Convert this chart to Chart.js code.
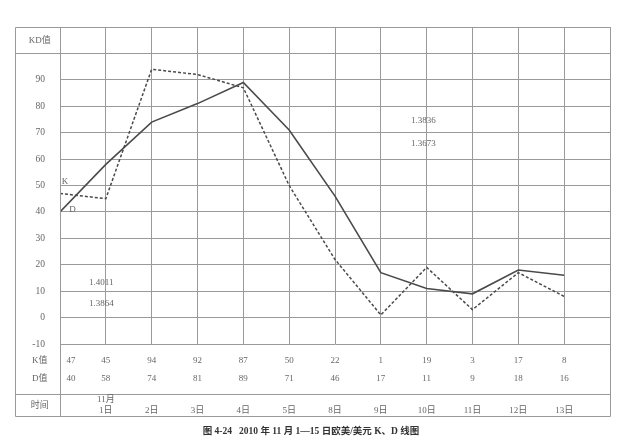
<!DOCTYPE html>
<html>
<head>
<meta charset="utf-8">
<script src="https://cdn.jsdelivr.net/npm/chart.js@4"></script>
<style>
  body { margin: 0; background: #fff; }
  #wrap { width: 622px; height: 446px; }
</style>
</head>
<body>
<div id="wrap"><canvas id="kd" width="622" height="446"></canvas></div>
<script>
// table rows under the chart, one entry per grid column
var dates = ['', '1日', '2日', '3日', '4日', '5日', '8日', '9日', '10日', '11日', '12日', '13日'];
var kValues = [47, 45, 94, 92, 87, 50, 22, 1, 19, 3, 17, 8];   // dashed line
var dValues = [40, 58, 74, 81, 89, 71, 46, 17, 11, 9, 18, 16]; // solid line
var monthLabel = '11月';
var notes = [
  { text: 'K', x: 0.04, y: 51.3, align: 'left' },
  { text: 'D', x: 0.2, y: 41, align: 'left' },
  { text: '1.4011', x: 0.9, y: 13.2, align: 'center' },
  { text: '1.3864', x: 0.9, y: 5.2, align: 'center' },
  { text: '1.3836', x: 7.93, y: 74.7, align: 'center' },
  { text: '1.3673', x: 7.93, y: 65.7, align: 'center' }
];
var caption = '图 4-24   2010 年 11 月 1—15 日欧美/美元 K、D 线图';

var FONT = '"Liberation Serif", "DejaVu Serif", "Noto Sans CJK SC", serif';
var GRID = '#9a9a9a';
var TEXT = '#666';

function pts(values) {
  return values.map(function (v, i) { return { x: i, y: v }; });
}

var tablePlugin = {
  id: 'tablePlugin',
  beforeDraw: function (chart) {
    var c = chart.ctx;
    c.save();
    c.fillStyle = '#fff';
    c.fillRect(0, 0, chart.width, chart.height);
    c.restore();
  },
  afterDraw: function (chart) {
    var c = chart.ctx;
    var xs = chart.scales.x, ys = chart.scales.y;
    var area = chart.chartArea;
    var left = 15.5;
    var right = Math.round(area.right - 0.5) + 0.5;
    var top = Math.round(area.top - 0.5) + 0.5;
    var colLine = Math.round(area.left - 0.5) + 0.5;
    var headY = Math.round(ys.getPixelForValue(100) - 0.5) + 0.5;
    var bottom = 416.5, timeLine = 394.5;

    c.save();
    c.strokeStyle = GRID;
    c.lineWidth = 1;
    c.beginPath();
    // outer frame
    c.moveTo(left, top); c.lineTo(right, top);
    c.moveTo(left, top); c.lineTo(left, bottom); c.lineTo(right, bottom); c.lineTo(right, top);
    // header line
    c.moveTo(left, headY); c.lineTo(right, headY);
    // left column line down to bottom
    c.moveTo(colLine, top); c.lineTo(colLine, bottom);
    // time row line
    c.moveTo(left, timeLine); c.lineTo(right, timeLine);
    c.stroke();

    c.fillStyle = TEXT;
    c.textBaseline = 'middle';
    c.font = '9px ' + FONT;
    var colX = (left + area.left) / 2 + 2;
    c.textAlign = 'center';
    c.fillText('KD值', colX, 41);
    c.fillText('K值', colX, 361);
    c.fillText('D值', colX, 379);
    c.fillText('时间', colX, 406);

    for (var i = 0; i < kValues.length; i++) {
      var px = xs.getPixelForValue(i);
      if (i === 0) px += 11;
      c.fillText(String(kValues[i]), px, 361);
      c.fillText(String(dValues[i]), px, 379);
      if (dates[i]) c.fillText(dates[i], px, 411);
      if (i === 1) c.fillText(monthLabel, px, 400);
    }

    notes.forEach(function (n) {
      c.textAlign = n.align;
      c.fillText(n.text, xs.getPixelForValue(n.x), ys.getPixelForValue(n.y));
    });

    c.fillStyle = '#333';
    c.textAlign = 'center';
    c.font = 'bold 9.5px ' + FONT;
    c.fillText(caption, 311, 432);
    c.restore();
  }
};

new Chart(document.getElementById('kd'), {
  type: 'line',
  data: {
    datasets: [
      {
        label: 'D',
        data: pts(dValues),
        borderColor: '#4a4a4a',
        borderWidth: 1.6,
        pointRadius: 0,
        tension: 0,
        fill: false
      },
      {
        label: 'K',
        data: pts(kValues),
        borderColor: '#4a4a4a',
        borderWidth: 1.5,
        borderDash: [3, 2],
        pointRadius: 0,
        tension: 0,
        fill: false
      }
    ]
  },
  options: {
    responsive: false,
    animation: false,
    layout: { padding: { left: 15, right: 12, top: 27, bottom: 102 } },
    plugins: { legend: { display: false }, tooltip: { enabled: false } },
    scales: {
      x: {
        type: 'linear',
        min: 0,
        max: 12,
        ticks: { display: false, stepSize: 1 },
        grid: { color: GRID, drawTicks: false },
        border: { display: false },
        afterFit: function (s) { s.height = 0; }
      },
      y: {
        min: -10,
        max: 110,
        ticks: {
          stepSize: 10,
          padding: 15,
          color: TEXT,
          font: { size: 9.5, family: FONT },
          callback: function (v) { return v >= 100 ? '' : v; }
        },
        grid: { color: GRID, drawTicks: false },
        border: { color: GRID },
        afterFit: function (s) { s.width = 45; }
      }
    }
  },
  plugins: [tablePlugin]
});
</script>
</body>
</html>
